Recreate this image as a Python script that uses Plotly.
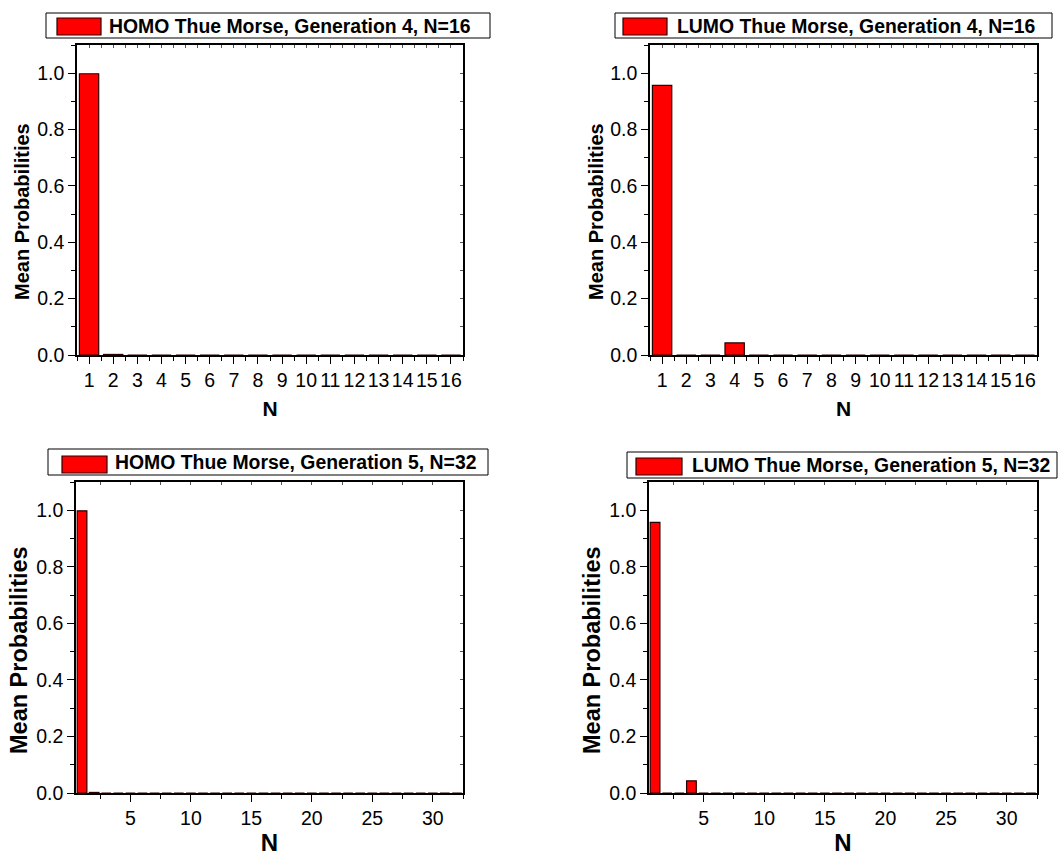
import plotly.graph_objects as go

# ---- data -------------------------------------------------------------
sites_16 = [1, 2, 3, 4, 5, 6, 7, 8, 9, 10, 11, 12, 13, 14, 15, 16]
sites_32 = [1, 2, 3, 4, 5, 6, 7, 8, 9, 10, 11, 12, 13, 14, 15, 16,
            17, 18, 19, 20, 21, 22, 23, 24, 25, 26, 27, 28, 29, 30, 31, 32]

homo_gen4 = [0.998, 0.002, 0.0, 0.0, 0.0, 0.0, 0.0, 0.0,
             0.0, 0.0, 0.0, 0.0, 0.0, 0.0, 0.0, 0.0]
lumo_gen4 = [0.957, 0.0, 0.0, 0.043, 0.0, 0.0, 0.0, 0.0,
             0.0, 0.0, 0.0, 0.0, 0.0, 0.0, 0.0, 0.0]
homo_gen5 = [0.998, 0.002, 0.0, 0.0, 0.0, 0.0, 0.0, 0.0,
             0.0, 0.0, 0.0, 0.0, 0.0, 0.0, 0.0, 0.0,
             0.0, 0.0, 0.0, 0.0, 0.0, 0.0, 0.0, 0.0,
             0.0, 0.0, 0.0, 0.0, 0.0, 0.0, 0.0, 0.0]
lumo_gen5 = [0.957, 0.0, 0.0, 0.043, 0.0, 0.0, 0.0, 0.0,
             0.0, 0.0, 0.0, 0.0, 0.0, 0.0, 0.0, 0.0,
             0.0, 0.0, 0.0, 0.0, 0.0, 0.0, 0.0, 0.0,
             0.0, 0.0, 0.0, 0.0, 0.0, 0.0, 0.0, 0.0]

legend_labels = ["HOMO Thue Morse, Generation 4, N=16",
                 "LUMO Thue Morse, Generation 4, N=16",
                 "HOMO Thue Morse, Generation 5, N=32",
                 "LUMO Thue Morse, Generation 5, N=32"]
x_title = "N"
y_title = "Mean Probabilities"

# ---- layout geometry (pixels) -----------------------------------------
W, H = 1063, 856
FONT = "Liberation Sans, Arial, sans-serif"
BAR_FILL = "#ff0000"
BAR_EDGE = "#2a0000"
TICK_SIZE = 19.5
LEGEND_SIZE = 19.4


def fx(px):
    return px / W


def fy(py):
    return 1 - py / H


# plot rectangles: (left, right, top, bottom)
panels = [
    dict(rect=(77, 463, 45, 355), x=sites_16, y=homo_gen4, n=16, big=False,
         legend=(46, 490, 13, 38), swatch=(57, 101, 18, 35), text_x=107,
         ytitle_pos=(22, 212)),
    dict(rect=(650, 1037, 45, 355), x=sites_16, y=lumo_gen4, n=16, big=False,
         legend=(615, 1052, 13, 38), swatch=(623, 667, 18, 35), text_x=675,
         ytitle_pos=(596, 212)),
    dict(rect=(76, 463, 482, 793), x=sites_32, y=homo_gen5, n=32, big=True,
         legend=(48, 488, 449, 475), swatch=(62, 107, 456, 473), text_x=113,
         ytitle_pos=(19, 650)),
    dict(rect=(649, 1037, 482, 793), x=sites_32, y=lumo_gen5, n=32, big=True,
         legend=(627, 1057, 452, 478), swatch=(636, 682, 458, 475), text_x=690,
         ytitle_pos=(592, 650)),
]

fig = go.Figure()
shapes = []
annotations = []

for i, p in enumerate(panels):
    k = i + 1
    xa = "x" if k == 1 else f"x{k}"
    ya = "y" if k == 1 else f"y{k}"
    # overlay axes that carry the inward ticks on the top and right frame
    kx_top = k + 4
    ky_right = k + 4

    fig.add_trace(go.Bar(
        x=p["x"], y=p["y"], width=0.8,
        marker=dict(color=BAR_FILL, line=dict(color=BAR_EDGE, width=1.2)),
        xaxis=xa, yaxis=ya, showlegend=False,
        name=legend_labels[i],
    ))

    l, r, t, b = p["rect"]
    dom_x = [fx(l), fx(r)]
    dom_y = [fy(b), fy(t)]
    xr = [0.5, p["n"] + 0.5]
    yr = [0, 1.1]

    if p["n"] == 16:
        xticks = dict(tickmode="array", tickvals=p["x"], ticktext=[str(v) for v in p["x"]])
        xminor = 0.5
    else:
        xticks = dict(tickmode="linear", tick0=5, dtick=5)
        xminor = 2.5

    title_size = 23.5 if p["big"] else 20
    n_size = 24 if p["big"] else 21

    fig.layout[f"xaxis{'' if k == 1 else k}"] = dict(
        domain=dom_x, anchor=ya, range=xr, **xticks, automargin=False,
        showline=True, linecolor="black", linewidth=1.5,
        ticks="outside", ticklen=7, tickwidth=1.2, tickcolor="black",
        minor=dict(ticks="outside", ticklen=4, tickwidth=1.2, tickcolor="black",
                   dtick=xminor, tick0=0.5 if p["n"] == 16 else 0),
        showgrid=False, zeroline=False,
        tickfont=dict(family=FONT, size=TICK_SIZE, color="black"),
        title=dict(text=f"<b>{x_title}</b>", standoff=20 if p["big"] else 11,
                   font=dict(family=FONT, size=n_size, color="black")),
    )
    fig.layout[f"yaxis{'' if k == 1 else k}"] = dict(
        domain=dom_y, anchor=xa, range=yr, automargin=False,
        tickmode="linear", tick0=0, dtick=0.2, tickformat=".1f",
        showline=True, linecolor="black", linewidth=1.5,
        ticks="outside", ticklen=7, tickwidth=1.2, tickcolor="black",
        minor=dict(ticks="outside", ticklen=4, tickwidth=1.2, tickcolor="black", dtick=0.1),
        showgrid=False, zeroline=False,
        tickfont=dict(family=FONT, size=TICK_SIZE, color="black"),
    )
    # frame: top and right axes with inward ticks
    fig.layout[f"xaxis{kx_top}"] = dict(
        domain=dom_x, anchor=ya, overlaying=xa, side="top", range=xr, automargin=False,
        tickmode="linear", tick0=0.5 if p["n"] == 16 else 0, dtick=xminor,
        showline=True, linecolor="black", linewidth=1.5,
        ticks="inside", ticklen=3, tickwidth=1, tickcolor="#555555",
        showticklabels=False, showgrid=False, zeroline=False,
    )
    fig.layout[f"yaxis{ky_right}"] = dict(
        domain=dom_y, anchor=xa, overlaying=ya, side="right", range=yr, automargin=False,
        tickmode="linear", tick0=0, dtick=0.1,
        showline=True, linecolor="black", linewidth=1.5,
        ticks="inside", ticklen=3, tickwidth=1, tickcolor="#555555",
        showticklabels=False, showgrid=False, zeroline=False,
    )

    # vertical y-axis title
    tx, ty = p["ytitle_pos"]
    annotations.append(dict(xref="paper", yref="paper", x=fx(tx), y=fy(ty),
                            xanchor="center", yanchor="middle", showarrow=False,
                            textangle=-90, text=f"<b>{y_title}</b>",
                            font=dict(family=FONT, size=title_size, color="black")))

    # legend box with swatch and bold label
    bl, br, bt, bb = p["legend"]
    shapes.append(dict(type="rect", xref="paper", yref="paper",
                       x0=fx(bl), x1=fx(br), y0=fy(bb), y1=fy(bt),
                       line=dict(color="black", width=1), fillcolor="white", layer="above"))
    sl, sr, st, sb = p["swatch"]
    shapes.append(dict(type="rect", xref="paper", yref="paper",
                       x0=fx(sl), x1=fx(sr), y0=fy(sb), y1=fy(st),
                       line=dict(color=BAR_EDGE, width=1.2), fillcolor=BAR_FILL, layer="above"))
    annotations.append(dict(xref="paper", yref="paper",
                            x=fx(p["text_x"]), y=fy((bt + bb) / 2),
                            xanchor="left", yanchor="middle", showarrow=False,
                            text=f"<b>{legend_labels[i]}</b>",
                            font=dict(family=FONT, size=LEGEND_SIZE, color="black")))

# dummy traces so overlay axes are rendered
for k in range(5, 9):
    fig.add_trace(go.Scatter(x=[None], y=[None], xaxis=f"x{k}", yaxis=f"y{k}",
                             showlegend=False, hoverinfo="skip"))

fig.update_layout(
    width=W, height=H,
    margin=dict(l=0, r=0, t=0, b=0),
    paper_bgcolor="white", plot_bgcolor="white",
    showlegend=False,
    bargap=0.2,
    shapes=shapes, annotations=annotations,
    font=dict(family=FONT, color="black"),
)

fig.write_html("out.html")
